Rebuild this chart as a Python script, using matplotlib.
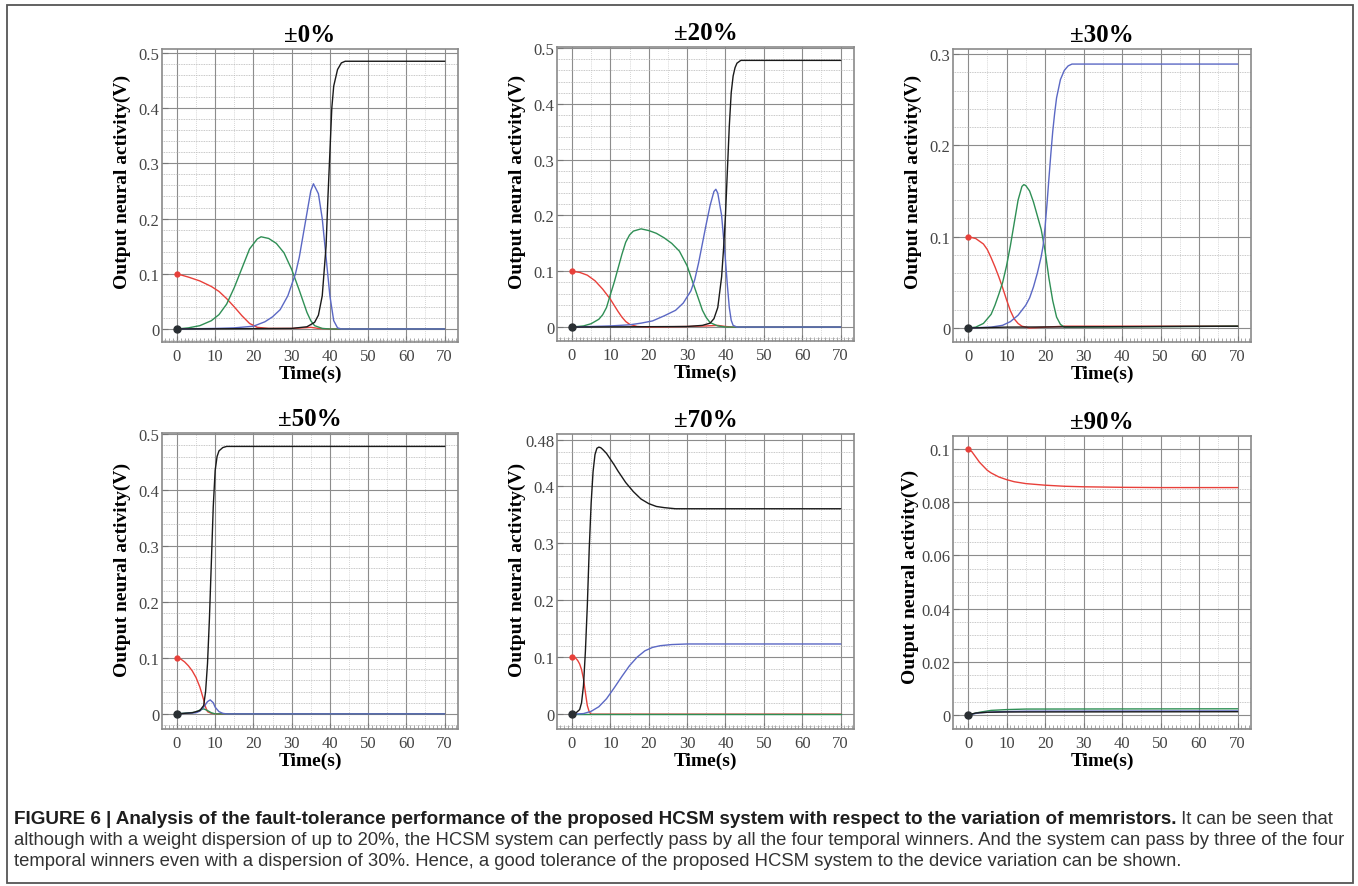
import matplotlib.pyplot as plt
from matplotlib.ticker import MultipleLocator
from matplotlib.patches import Rectangle

# sampled traces (time s, output V) for the four output neurons

# ±0%
p0_red = [(0, 0.100), (3, 0.094), (6, 0.087), (9, 0.077), (11, 0.068), (13, 0.055), (15, 0.040),
          (17, 0.024), (19, 0.010), (21, 0.003), (24, 0.001), (30, 0.001), (33, 0.002), (35, 0.003),
          (37, 0.001), (40, 0), (70, 0)]
p0_green = [(0, 0), (3, 0.002), (6, 0.006), (9, 0.015), (11, 0.026), (13, 0.045), (15, 0.075),
            (17, 0.110), (19, 0.145), (21, 0.163), (22, 0.167), (24, 0.164), (26, 0.155), (28, 0.138),
            (30, 0.108), (32, 0.070), (33, 0.050), (34, 0.030), (35, 0.015), (36, 0.006), (38, 0.001),
            (40, 0), (70, 0)]
p0_blue = [(0, 0), (10, 0.001), (15, 0.002), (20, 0.005), (23, 0.013), (25, 0.022), (27, 0.035),
           (29, 0.060), (31, 0.100), (32, 0.130), (33, 0.170), (34, 0.210), (35, 0.250), (35.7, 0.263),
           (37, 0.245), (38, 0.200), (39, 0.130), (40, 0.060), (41, 0.015), (42, 0.002), (43, 0), (70, 0)]
p0_black = [(0, 0), (30, 0.001), (34, 0.004), (36, 0.012), (37, 0.025), (38, 0.060), (39, 0.150),
            (39.5, 0.240), (40, 0.320), (40.5, 0.400), (41, 0.440), (42, 0.470), (43, 0.482),
            (44, 0.485), (70, 0.485)]

# ±20%
p20_red = [(0, 0.100), (2, 0.098), (4, 0.093), (6, 0.083), (8, 0.068), (10, 0.050), (12, 0.028),
           (13, 0.018), (14, 0.010), (15, 0.005), (17, 0.001), (20, 0), (30, 0.001), (35, 0.002),
           (38, 0.003), (40, 0.001), (42, 0), (70, 0)]
p20_green = [(0, 0), (3, 0.002), (5, 0.006), (7, 0.014), (8, 0.022), (9, 0.035), (10, 0.058),
             (11, 0.080), (12, 0.105), (13, 0.130), (14, 0.152), (15, 0.165), (16, 0.172), (18, 0.176),
             (20, 0.173), (22, 0.168), (24, 0.160), (26, 0.150), (28, 0.136), (30, 0.110), (31, 0.090),
             (32, 0.070), (33, 0.050), (34, 0.030), (35, 0.017), (36, 0.008), (38, 0.002), (40, 0), (70, 0)]
p20_blue = [(0, 0), (10, 0.002), (15, 0.004), (18, 0.007), (21, 0.011), (24, 0.020), (27, 0.030),
            (29, 0.043), (31, 0.065), (32, 0.085), (33, 0.115), (34, 0.150), (35, 0.185), (36, 0.218),
            (37, 0.243), (37.5, 0.247), (38, 0.240), (39, 0.200), (40, 0.120), (40.5, 0.075),
            (41, 0.035), (41.5, 0.012), (42, 0.003), (43, 0), (70, 0)]
p20_black = [(0, 0), (30, 0.001), (34, 0.003), (36, 0.007), (37, 0.015), (38, 0.035), (39, 0.090),
             (39.5, 0.140), (40, 0.200), (40.5, 0.280), (41, 0.360), (41.5, 0.420), (42, 0.450),
             (42.5, 0.465), (43, 0.473), (44, 0.478), (70, 0.478)]

# ±30%
p30_red = [(0, 0.100), (2, 0.098), (4, 0.092), (5, 0.086), (6, 0.077), (7, 0.067), (8, 0.056),
           (9, 0.044), (10, 0.031), (11, 0.019), (12, 0.010), (13, 0.005), (14, 0.002), (16, 0),
           (20, 0.001), (25, 0.002), (70, 0.002)]
p30_green = [(0, 0), (2, 0.001), (4, 0.005), (6, 0.015), (7, 0.025), (8, 0.037), (9, 0.050),
             (10, 0.068), (11, 0.090), (12, 0.115), (13, 0.140), (14, 0.155), (14.5, 0.157),
             (15, 0.156), (16, 0.150), (17, 0.138), (18, 0.123), (19, 0.108), (20, 0.085), (21, 0.055),
             (22, 0.030), (23, 0.012), (24, 0.004), (25, 0.001), (27, 0.001), (70, 0.002)]
p30_blue = [(0, 0), (6, 0.001), (9, 0.003), (11, 0.007), (13, 0.014), (15, 0.025), (16, 0.033),
            (17, 0.045), (18, 0.060), (19, 0.078), (19.5, 0.090), (20, 0.110), (20.5, 0.135),
            (21, 0.163), (21.5, 0.190), (22, 0.215), (22.5, 0.235), (23, 0.252), (24, 0.272),
            (25, 0.282), (26, 0.287), (27, 0.289), (70, 0.289)]
p30_black = [(0, 0), (10, 0.001), (70, 0.002)]

# ±50%
p50_red = [(0, 0.100), (1, 0.098), (2, 0.093), (3, 0.086), (4, 0.077), (5, 0.065), (6, 0.048),
           (7, 0.025), (7.5, 0.012), (8, 0.004), (9, 0.001), (10, 0), (70, 0)]
p50_green = [(0, 0), (5, 0.003), (6, 0.007), (7, 0.009), (8, 0.006), (9, 0.002), (10, 0), (70, 0)]
p50_blue = [(0, 0), (5, 0.002), (6, 0.005), (7, 0.012), (8, 0.022), (8.7, 0.025), (9.5, 0.020),
            (10, 0.012), (11, 0.004), (12, 0.001), (13, 0), (70, 0)]
p50_black = [(0, 0), (4, 0.002), (6, 0.006), (7, 0.015), (7.5, 0.040), (8, 0.090), (8.5, 0.170),
             (9, 0.270), (9.5, 0.370), (10, 0.435), (10.5, 0.460), (11, 0.470), (12, 0.476),
             (13, 0.478), (70, 0.478)]

# ±70%
p70_red = [(0, 0.100), (0.5, 0.100), (1, 0.098), (1.5, 0.094), (2, 0.088), (2.5, 0.078), (3, 0.062),
           (3.5, 0.038), (4, 0.015), (4.5, 0.004), (5, 0), (70, 0)]
p70_green = [(0, 0), (70, 0)]
p70_blue = [(0, 0), (3, 0.001), (5, 0.005), (7, 0.013), (9, 0.027), (11, 0.046), (13, 0.066),
            (15, 0.085), (17, 0.100), (19, 0.111), (21, 0.117), (23, 0.120), (26, 0.122),
            (30, 0.123), (70, 0.123)]
p70_black = [(0, 0), (1, 0.002), (2, 0.008), (2.5, 0.020), (3, 0.050), (3.5, 0.110), (4, 0.190),
             (4.5, 0.290), (5, 0.370), (5.5, 0.425), (6, 0.455), (6.5, 0.466), (7, 0.468),
             (7.5, 0.467), (8, 0.464), (9, 0.457), (10, 0.447), (11, 0.437), (12, 0.426),
             (13, 0.416), (14, 0.406), (16, 0.390), (18, 0.377), (20, 0.369), (22, 0.364),
             (24, 0.362), (27, 0.360), (70, 0.360)]

# ±90%
p90_red = [(0, 0.100), (1, 0.099), (2, 0.097), (3, 0.095), (4, 0.0935), (5, 0.092), (6, 0.091),
           (8, 0.0895), (10, 0.0885), (12, 0.0877), (15, 0.087), (20, 0.0864), (25, 0.086),
           (30, 0.0858), (40, 0.0856), (50, 0.0855), (70, 0.0855)]
p90_green = [(0, 0), (3, 0.001), (6, 0.0017), (10, 0.002), (15, 0.0022), (70, 0.0023)]
p90_blue = [(0, 0), (3, 0.0008), (8, 0.0012), (15, 0.0014), (70, 0.0015)]
p90_black = [(0, 0), (2, 0.0007), (5, 0.001), (10, 0.0011), (70, 0.0012)]

titles = ["±0%", "±20%", "±30%", "±50%", "±70%", "±90%"]
traces = [
    (p0_red, p0_green, p0_blue, p0_black),
    (p20_red, p20_green, p20_blue, p20_black),
    (p30_red, p30_green, p30_blue, p30_black),
    (p50_red, p50_green, p50_blue, p50_black),
    (p70_red, p70_green, p70_blue, p70_black),
    (p90_red, p90_green, p90_blue, p90_black),
]
yticks = [
    [0, 0.1, 0.2, 0.3, 0.4, 0.5],
    [0, 0.1, 0.2, 0.3, 0.4, 0.5],
    [0, 0.1, 0.2, 0.3],
    [0, 0.1, 0.2, 0.3, 0.4, 0.5],
    [0, 0.1, 0.2, 0.3, 0.4, 0.48],
    [0, 0.02, 0.04, 0.06, 0.08, 0.1],
]
xticks = [0, 10, 20, 30, 40, 50, 60, 70]

caption_bold = ("FIGURE 6 | Analysis of the fault-tolerance performance of the proposed HCSM system "
                "with respect to the variation of memristors.")
caption_rest = " It can be seen that"
caption_lines = [
    "although with a weight dispersion of up to 20%, the HCSM system can perfectly pass by all the "
    "four temporal winners. And the system can pass by three of the four",
    "temporal winners even with a dispersion of 30%. Hence, a good tolerance of the proposed HCSM "
    "system to the device variation can be shown.",
]

colors = ["#e8403a", "#2f8f55", "#5b68c4", "#1a1a1a"]
serif = "Liberation Serif"
sans = "Liberation Sans"

W, H = 1358, 887
fig = plt.figure(figsize=(W / 100, H / 100), dpi=100)

# panel boxes in pixels: left, right, top, bottom
boxes = [(162, 458, 50, 343), (557, 854, 48, 342), (953, 1251, 50, 343),
         (162, 458, 434, 730), (557, 854, 435, 730), (953, 1251, 437, 730)]
ylims = [(-0.0236, 0.5072), (-0.025, 0.502), (-0.0153, 0.3055),
         (-0.027, 0.502), (-0.026, 0.491), (-0.0053, 0.1049)]
yminor = [0.02, 0.02, 0.02, 0.02, 0.02, 0.005]
ylab_y = [182, 182, 182, 570, 570, 577]
ylab_dx = [40, 40, 40, 40, 40, 43]

for i, (l, r, t, b) in enumerate(boxes):
    ax = fig.add_axes([l / W, 1 - b / H, (r - l) / W, (b - t) / H])
    ax.set_xlim(-3.9, 73.5)
    ax.set_ylim(*ylims[i])

    # grid: solid major lines, light minor lines
    ax.set_xticks(xticks)
    ax.xaxis.set_minor_locator(MultipleLocator(1))
    ax.set_yticks(yticks[i])
    ax.yaxis.set_minor_locator(MultipleLocator(yminor[i]))
    ax.grid(True, which="major", color="#8c8c8c", lw=0.8)
    ax.grid(True, which="minor", axis="y", color="#b5b5b5", lw=0.6, ls=(0, (1, 1)))
    for xv in range(5, 70, 10):
        ax.axvline(xv, color="#c8c8c8", lw=0.6, ls=(0, (1, 1.5)), zorder=0.5)
    ax.set_axisbelow(True)

    for side in ["left", "right", "top", "bottom"]:
        ax.spines[side].set_color("#8a8a8a")
        ax.spines[side].set_linewidth(1.2)

    ax.tick_params(axis="both", which="major", direction="in", length=4, color="#777",
                   labelsize=12, labelcolor="#444", pad=2)
    ax.tick_params(axis="x", which="major", pad=4)
    ax.tick_params(axis="x", which="minor", direction="in", length=3, color="#999", width=0.6)
    ax.tick_params(axis="y", which="minor", length=0)
    ax.set_xticklabels([str(v) for v in xticks], family=serif)
    ax.set_yticklabels(["0" if v == 0 else f"{v:g}" for v in yticks[i]], family=serif)

    for series, c in zip(traces[i], colors):
        ts = [p[0] for p in series]
        vs = [p[1] for p in series]
        ax.plot(ts, vs, color=c, lw=1.0, zorder=3)

    # start markers
    red = traces[i][0]
    black = traces[i][3]
    ax.plot(red[0][0], red[0][1], marker="o", ms=3.5, color=colors[0], zorder=4)
    ax.plot(black[0][0], black[0][1], marker="o", ms=5, color="#2a2f33", zorder=4)

    ax.set_title(titles[i], family=serif, weight="bold", fontsize=18, pad=6)
    ax.set_xlabel("Time(s)", family=serif, weight="bold", fontsize=14)
    ax.xaxis.label.set_va("center")
    ax.xaxis.set_label_coords(0.5, -31 / (b - t))
    ax.set_ylabel("Output neural activity(V)", family=serif, weight="bold", fontsize=14)
    ax.yaxis.label.set_va("center")
    ax.yaxis.set_label_coords(-ylab_dx[i] / (r - l), (b - ylab_y[i]) / (b - t))

# outer frame
fig.patches.append(Rectangle((7 / W, 1 - 884 / H), (1353 - 7) / W, (884 - 6) / H,
                             transform=fig.transFigure, fill=False, ec="#555", lw=1.3))

# caption
fig.canvas.draw()
renderer = fig.canvas.get_renderer()
cap_x = 14 / W
txt = fig.text(cap_x, 1 - 820 / H, caption_bold, family=sans, weight="bold", fontsize=13.6,
               color="#1e1e1e", va="center")
bb = txt.get_window_extent(renderer)
fig.text(bb.x1 / W, 1 - 820 / H, caption_rest, family=sans, fontsize=13.3, color="#333",
         va="center")
for k, line in enumerate(caption_lines):
    fig.text(cap_x, 1 - (841 + 21 * k) / H, line, family=sans, fontsize=13.3, color="#333",
             va="center")

fig.savefig("out.png", dpi=100)
